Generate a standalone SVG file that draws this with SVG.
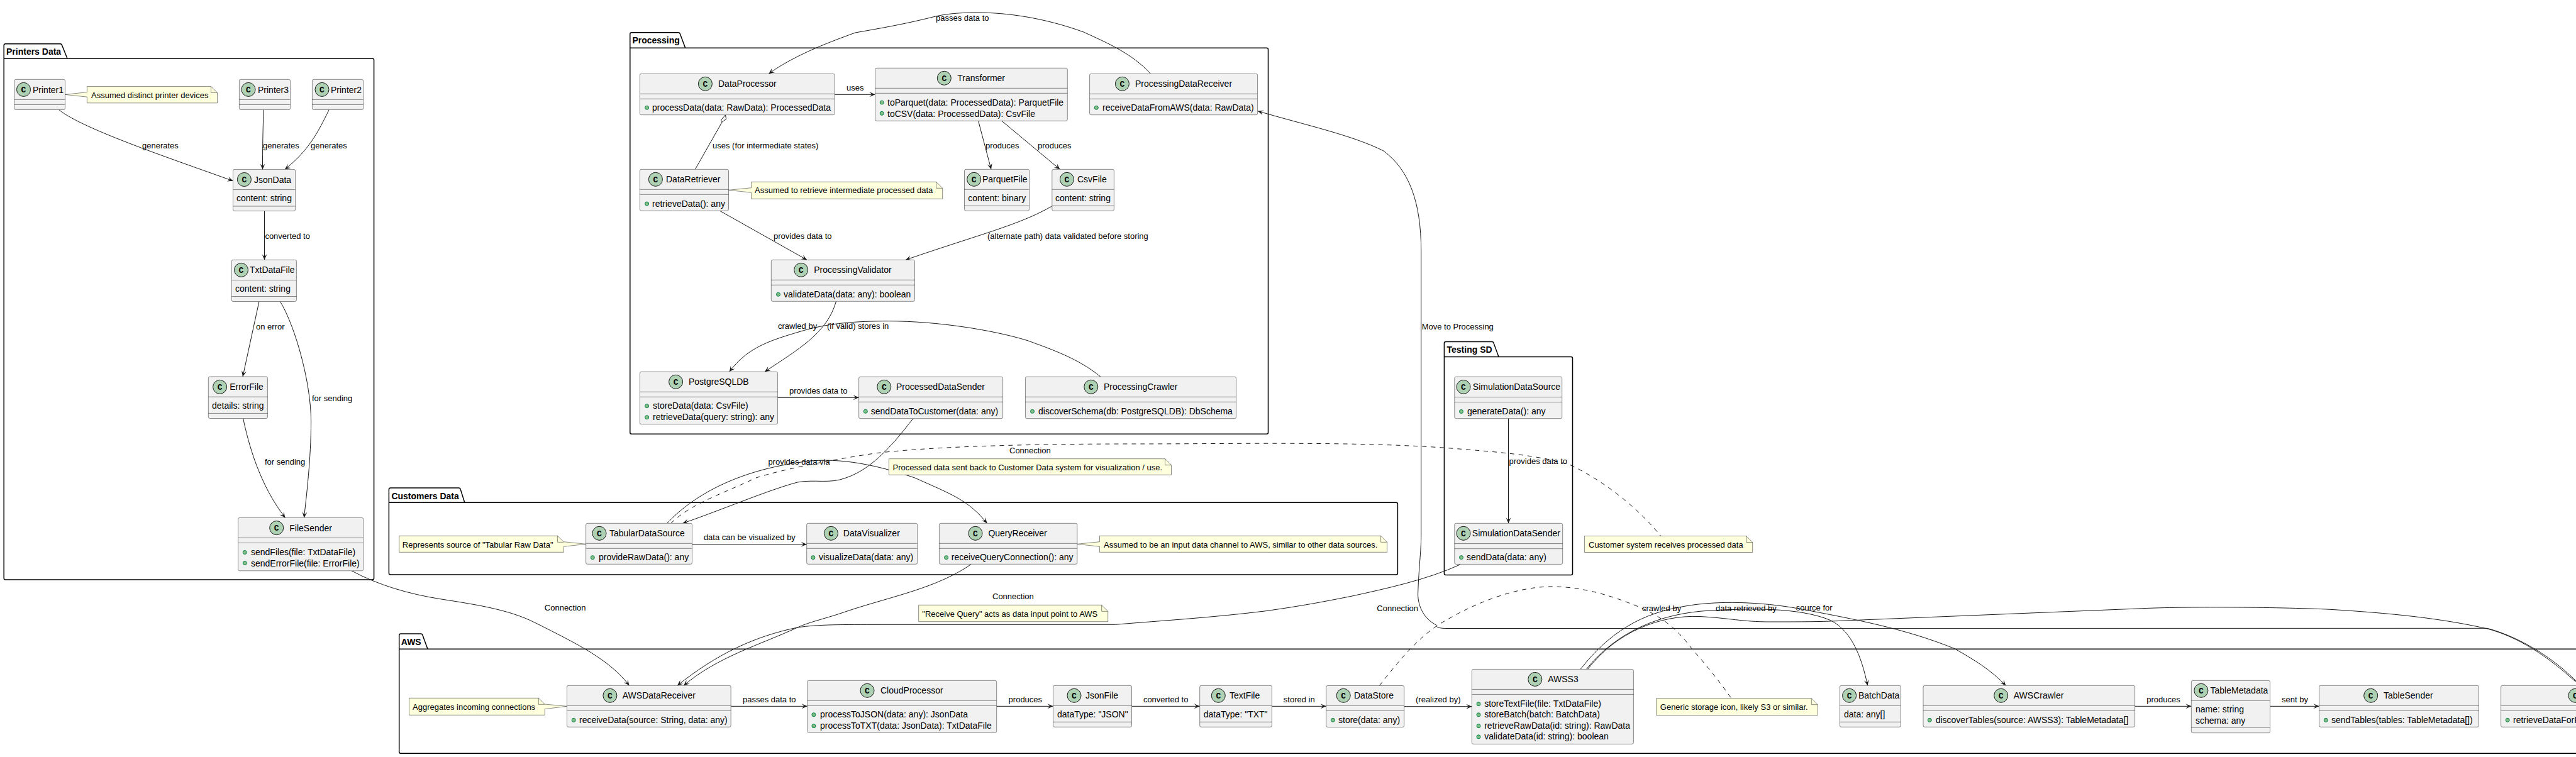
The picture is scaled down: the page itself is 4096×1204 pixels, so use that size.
<svg xmlns="http://www.w3.org/2000/svg" width="4096" height="1204" viewBox="0 0 4096 1204">
<defs>
<marker id="arr" markerUnits="userSpaceOnUse" markerWidth="12" markerHeight="12" refX="10" refY="6" orient="auto"><path d="M10 6 L1 2 L5 6 L1 10 Z" fill="#181818"/></marker>
</defs>
<style>
text{font-family:"Liberation Sans",Arial,sans-serif;fill:#000}
.t{font-size:14px}
.s{font-size:13px}
.b{font-size:14px;font-weight:bold}
.k{font-size:13px;font-weight:bold;text-anchor:middle;font-family:"Liberation Mono","Liberation Sans",monospace}
.box{fill:#F1F1F1;stroke:#181818;stroke-width:.5}
.ln{stroke:#181818;stroke-width:.5;fill:none}
.ci{fill:#ADD1B2;stroke:#181818;stroke-width:1}
.d{fill:#84BE84;stroke:#038048;stroke-width:1}
.nt{fill:#FEFFDD;stroke:#181818;stroke-width:.5}
.pk{fill:none;stroke:#000;stroke-width:1.5}
.c{fill:none;stroke:#181818;stroke-width:1}
.a{marker-end:url(#arr)}
.da{stroke-dasharray:7 7}
</style>
<rect width="4096" height="1204" fill="#fff"/>

<g id="packages">
<g id="pkg-printers"><path class="pk" d="M6.2 93 L6.2 72 Q6.2 69.7 8.7 69.7 L96 69.7 Q98 69.7 98.6 72 L107 93 L592 93 Q594.6 93 594.6 95.5 L594.6 919.5 Q594.6 922 592 922 L8.7 922 Q6.2 922 6.2 919.5 Z M6.2 93 L107 93"/><text class="b" x="10" y="87.3">Printers Data</text></g>
<g id="pkg-processing"><path class="pk" d="M1001.8 76.3 L1001.8 54.2 Q1001.8 51.7 1004.3 51.7 L1078.8 51.7 Q1080.8 51.7 1081.4 54 L1089.7 76.3 L2014 76.3 Q2016.5 76.3 2016.5 78.8 L2016.5 687.8 Q2016.5 690.3 2014 690.3 L1004.3 690.3 Q1001.8 690.3 1001.8 687.8 Z M1001.8 76.3 L1089.7 76.3"/><text class="b" x="1005.4" y="69.3">Processing</text></g>
<g id="pkg-customers"><path class="pk" d="M618.4 799.3 L618.4 778.5 Q618.4 776 620.9 776 L729.6 776 Q731.6 776 732.2 778.3 L738.8 799.3 L2219.9 799.3 Q2222.4 799.3 2222.4 801.8 L2222.4 911.5 Q2222.4 914 2219.9 914 L620.9 914 Q618.4 914 618.4 911.5 Z M618.4 799.3 L738.8 799.3"/><text class="b" x="622.4" y="793.6">Customers Data</text></g>
<g id="pkg-testing"><path class="pk" d="M2296.4 567.4 L2296.4 546.1 Q2296.4 543.6 2298.9 543.6 L2372.5 543.6 Q2374.5 543.6 2375.1 545.9 L2383 567.4 L2498 567.4 Q2500.5 567.4 2500.5 569.9 L2500.5 912 Q2500.5 914.5 2498 914.5 L2298.9 914.5 Q2296.4 914.5 2296.4 912 Z M2296.4 567.4 L2383 567.4"/><text class="b" x="2300.5" y="561">Testing SD</text></g>
<g id="pkg-aws"><path class="pk" d="M4110 1032.3 L680 1032.3 L672 1010.3 Q671.4 1008 669.4 1008 L637.2 1008 Q634.7 1008 634.7 1010.5 L634.7 1195.8 Q634.7 1198.3 637.2 1198.3 L4110 1198.3 M634.7 1032.3 L680 1032.3"/><text class="b" x="637.8" y="1025.6">AWS</text></g>
</g>

<g id="connectors">
<path class="c a" d="M93.7 174.5 C130 205 280 255 370.5 287.8"/><text class="s" x="226" y="235.7">generates</text>
<path class="c a" d="M419.2 174.5 C418 200 417.5 240 417.5 269.4"/><text class="s" x="418" y="235.7">generates</text>
<path class="c a" d="M523.2 174.5 C505 212 490 240 453 269.4"/><text class="s" x="494" y="235.7">generates</text>
<path class="c a" d="M420.5 335.6 L420.5 413.3"/><text class="s" x="421.4" y="379.6">converted to</text>
<path class="c a" d="M412 479.5 L386 599"/><text class="s" x="407" y="524">on error</text>
<path class="c a" d="M445.5 479.5 C470 520 494.6 610 494.6 670 C494.6 730 487 790 483.5 823.4"/><text class="s" x="496" y="637.8">for sending</text>
<path class="c a" d="M386.6 665.5 C395 705 412 770 453.5 823.4"/><text class="s" x="421" y="738.7">for sending</text>
<path class="c a" d="M559 907.8 C600 930 650 945 702 953 C760 962 810 970 850 990 C920 1025 970 1050 1000.5 1090.3"/><text class="s" x="865.8" y="970.7">Connection</text>

<path class="c a" d="M1829.5 117.3 C1800 85 1760 68 1723 51 C1660 28 1600 20 1553.6 20 C1520 20 1500 23 1484.8 26.7 C1440 38 1400 45 1360 52 C1310 70 1260 90 1222.3 117.3"/><text class="s" x="1488" y="33.3">passes data to</text>
<path class="c a" d="M1327.2 150.3 L1391.5 150.3"/><text class="s" x="1346" y="144">uses</text>
<path class="c" d="M1105.4 269.3 L1148.2 194"/><path d="M1153.3 183 L1146.4 191 L1148.2 194 L1154.8 189.3 Z" fill="#fff" stroke="#181818" stroke-width="1"/><text class="s" x="1133" y="235.7">uses (for intermediate states)</text>
<path class="c a" d="M1555.6 192.3 L1576 269.3"/><text class="s" x="1567" y="235.7">produces</text>
<path class="c a" d="M1592.9 192.3 L1685.3 269.3"/><text class="s" x="1650" y="235.7">produces</text>
<path class="c a" d="M1144.6 335.3 L1283 413.3"/><text class="s" x="1230" y="380">provides data to</text>
<path class="c a" d="M1671.9 328.3 C1620 358 1560 372 1440 413.3"/><text class="s" x="1570" y="380">(alternate path) data validated before storing</text>
<path class="c a" d="M1329.5 479.3 C1315 530 1270 555 1216 591.3"/><text class="s" x="1315" y="523.3">(if valid) stores in</text>
<path class="c a" d="M1750 599.3 C1715 570 1670 555 1634 541.7 C1580 525 1490 510.7 1413.4 510.7 C1360 510.7 1320 514 1280 525 C1230 540 1190 550 1159.8 591.3"/><text class="s" x="1237" y="523.3">crawled by</text>
<path class="c a" d="M1236.6 632.3 L1365.6 632.3"/><text class="s" x="1255" y="625.7">provides data to</text>

<path class="c a" d="M1060.7 832.3 C1105 785 1180 745 1290 733 C1350 728 1410 745 1454.6 760 C1510 785 1540 795 1569.4 832.3"/><text class="s" x="1221.4" y="738.7">provides data via</text>
<path class="c da" d="M1066.8 832.3 C1100 800 1150 785 1202 760 C1250 745 1330 730 1391 721 C1500 708 1680 706 1812.5 706 C1960 706 2150 702 2294 712 C2400 720 2450 725 2498 740 C2560 770 2610 815 2640.8 852.5"/><text class="s" x="1605" y="720.7">Connection</text>
<path class="c a" d="M1451.8 665.7 C1425 700 1390 745 1345 760 C1320 770 1295 762 1268 767 C1220 780 1150 810 1085.7 832.3"/>
<path class="c a" d="M1100.5 865.7 L1282.7 865.7"/><text class="s" x="1118.9" y="859">data can be visualized by</text>
<path class="c a" d="M1544.4 897.3 C1490 935 1420 948 1350 971 C1310 985 1290 988 1268 998 C1210 1025 1140 1045 1087.2 1090.3"/><text class="s" x="1578" y="952.7">Connection</text>
<path class="c a" d="M2322 897.8 C2270 922 2200 937 2150 948 C2090 960 2060 965 2013 971.7 C1930 982 1850 987 1773.5 993.3 L1400 993.3 C1340 993.5 1300 993 1268 998 C1200 1012 1140 1040 1077 1090.3"/><text class="s" x="2189.3" y="971.5">Connection</text>

<path class="c a" d="M2398.5 665.7 L2398.5 832.3"/><text class="s" x="2399.5" y="738.4">provides data to</text>
<path class="c a" d="M4110 1098 C4070 1052 4010 1014 3955 999.3 L2300 999.5 C2285 999.5 2283 996 2283.7 994 C2265 985 2254.6 965 2254.6 945 C2256 900 2259.7 880 2259.7 850 L2259.7 400 C2259.7 320 2240 270 2200 240 C2150 215 2080 200 2000 176.7"/><text class="s" x="2260.7" y="523.8">Move to Processing</text>

<path class="c a" d="M1162.2 1123.3 L1283.7 1123.3"/><text class="s" x="1181" y="1116.7">passes data to</text>
<path class="c a" d="M1584.7 1123.3 L1674.5 1123.3"/><text class="s" x="1603.6" y="1116.7">produces</text>
<path class="c a" d="M1799.5 1123.3 L1907.7 1123.3"/><text class="s" x="1817.9" y="1116.7">converted to</text>
<path class="c a" d="M2022.4 1123.3 L2108.7 1123.3"/><text class="s" x="2040.8" y="1116.7">stored in</text>
<path class="c a" d="M2232.7 1123.7 L2340.3 1123.7"/><text class="s" x="2251" y="1117">(realized by)</text>
<path class="c da" d="M2193.4 1090.5 C2225 1050 2250 1020 2283.7 996 C2340 960 2410 933 2467 933 C2520 933 2570 950 2610 967 C2650 985 2670 1005 2692 1034 C2715 1060 2735 1085 2753 1110.7"/>
<path class="c a" d="M2513 1064.4 C2560 1005 2610 975 2680 964 C2730 955 2800 957 2860 968 C2950 985 3030 1000 3108 1031.7 C3140 1050 3165 1065 3189.3 1090.3"/><text class="s" x="2855.8" y="970.7">source for</text>
<path class="c a" d="M2522.4 1064.4 C2570 1005 2640 975 2720 971 C2780 968 2860 965 2911.6 987 C2945 1005 2960 1045 2969.6 1090.3"/><text class="s" x="2728" y="971.5">data retrieved by</text>
<path class="c" d="M2524.5 1064.4 C2570 1005 2640 978 2702 980.5 C2750 983 2770 989 2814 989 C2850 989 2880 989 2911.6 988 L3400 968 C3460 965 3600 965 3700 969 C3800 975 3880 983 3955 1000 C4000 1012 4050 1040 4110 1098"/><text class="s" x="2611" y="971.5">crawled by</text>
<path class="c a" d="M3394.6 1123.3 L3484.3 1123.3"/><text class="s" x="3413.3" y="1116.7">produces</text>
<path class="c a" d="M3609.5 1123.3 L3687.6 1123.3"/><text class="s" x="3628" y="1116.7">sent by</text>
</g>

<g id="Printer1"><rect class="box" x="22.8" y="126.3" width="80.8" height="48.2" rx="2.5"/><path class="ln" d="M22.8 158.4H103.6M22.8 166.5H103.6"/><circle class="ci" cx="37.5" cy="142.4" r="11"/><text class="k" x="37.5" y="147">C</text><text class="t" x="52" y="147.5">Printer1</text></g>
<g id="note-printer"><path class="nt" d="M138.4 137.4 L138.4 146.6 L103.6 150.4 L138.4 154.2 L138.4 163.8 L345.5 163.8 L345.5 147.4 L335.5 137.4 Z"/><path class="ln" d="M335.5 137.4 L335.5 147.4 L345.5 147.4"/><text class="s" x="145" y="156">Assumed distinct printer devices</text></g>
<g id="Printer3"><rect class="box" x="380.4" y="126.3" width="81.2" height="48.2" rx="2.5"/><path class="ln" d="M380.4 158.4H461.6M380.4 166.5H461.6"/><circle class="ci" cx="395" cy="142.4" r="11"/><text class="k" x="395" y="147">C</text><text class="t" x="410" y="147.5">Printer3</text></g>
<g id="Printer2"><rect class="box" x="496.4" y="126.3" width="81.3" height="48.2" rx="2.5"/><path class="ln" d="M496.4 158.4H577.7M496.4 166.5H577.7"/><circle class="ci" cx="512" cy="142.4" r="11"/><text class="k" x="512" y="147">C</text><text class="t" x="526" y="147.5">Printer2</text></g>
<g id="JsonData"><rect class="box" x="370.5" y="269.4" width="99.1" height="66.2" rx="2.5"/><path class="ln" d="M370.5 301.6H469.6M370.5 328H469.6"/><circle class="ci" cx="388.4" cy="285.5" r="11"/><text class="k" x="388.4" y="290">C</text><text class="t" x="404" y="290.5">JsonData</text><text class="t" x="376" y="319.6">content: string</text></g>
<g id="TxtDataFile"><rect class="box" x="368.3" y="413.3" width="103.1" height="66.2" rx="2.5"/><path class="ln" d="M368.3 445.5H471.4M368.3 471.5H471.4"/><circle class="ci" cx="383.5" cy="429.4" r="11"/><text class="k" x="383.5" y="434">C</text><text class="t" x="397" y="434.4">TxtDataFile</text><text class="t" x="374" y="463.7">content: string</text></g>
<g id="ErrorFile"><rect class="box" x="331.3" y="599" width="94.1" height="66.5" rx="2.5"/><path class="ln" d="M331.3 631.2H425.4M331.3 657.4H425.4"/><circle class="ci" cx="349.6" cy="615.4" r="11"/><text class="k" x="349.6" y="620">C</text><text class="t" x="365.2" y="620.4">ErrorFile</text><text class="t" x="337" y="649.5">details: string</text></g>
<g id="FileSender"><rect class="box" x="378.6" y="823.4" width="199.1" height="84.4" rx="2.5"/><path class="ln" d="M378.6 855.4H577.7M378.6 863.5H577.7"/><circle class="ci" cx="439.7" cy="839.6" r="11"/><text class="k" x="439.7" y="844.2">C</text><text class="t" x="460.3" y="844.6">FileSender</text><circle class="d" cx="389.3" cy="878.5" r="3"/><text class="t" x="399" y="883">sendFiles(file: TxtDataFile)</text><circle class="d" cx="389.3" cy="895.5" r="3"/><text class="t" x="399" y="900.5">sendErrorFile(file: ErrorFile)</text></g>

<g id="DataProcessor"><rect class="box" x="1017.4" y="117.3" width="309.8" height="65.4" rx="2.5"/><path class="ln" d="M1017.4 149.3H1327.2M1017.4 157.3H1327.2"/><circle class="ci" cx="1121.4" cy="133.3" r="11"/><text class="k" x="1121.4" y="138">C</text><text class="t" x="1142" y="138.3">DataProcessor</text><circle class="d" cx="1028.6" cy="171.3" r="3"/><text class="t" x="1037" y="176">processData(data: RawData): ProcessedData</text></g>
<g id="Transformer"><rect class="box" x="1391.5" y="108.3" width="305.8" height="84" rx="2.5"/><path class="ln" d="M1391.5 140.3H1697.3M1391.5 148.3H1697.3"/><circle class="ci" cx="1501.3" cy="124.3" r="11"/><text class="k" x="1501.3" y="129">C</text><text class="t" x="1522.3" y="129.3">Transformer</text><circle class="d" cx="1402.2" cy="163" r="3"/><text class="t" x="1411" y="168">toParquet(data: ProcessedData): ParquetFile</text><circle class="d" cx="1402.2" cy="180.3" r="3"/><text class="t" x="1411" y="185.7">toCSV(data: ProcessedData): CsvFile</text></g>
<g id="ProcessingDataReceiver"><rect class="box" x="1732.6" y="117.3" width="267" height="65.4" rx="2.5"/><path class="ln" d="M1732.6 149.3H1999.6M1732.6 157.3H1999.6"/><circle class="ci" cx="1784.4" cy="133.3" r="11"/><text class="k" x="1784.4" y="138">C</text><text class="t" x="1805" y="138.3">ProcessingDataReceiver</text><circle class="d" cx="1743.3" cy="171.3" r="3"/><text class="t" x="1753" y="176">receiveDataFromAWS(data: RawData)</text></g>
<g id="DataRetriever"><rect class="box" x="1017.4" y="269.3" width="141.1" height="66" rx="2.5"/><path class="ln" d="M1017.4 301.3H1158.5M1017.4 309.3H1158.5"/><circle class="ci" cx="1042.4" cy="285.3" r="11"/><text class="k" x="1042.4" y="290">C</text><text class="t" x="1059" y="290.3">DataRetriever</text><circle class="d" cx="1028.6" cy="324" r="3"/><text class="t" x="1037" y="328.5">retrieveData(): any</text></g>
<g id="note-retriever"><path class="nt" d="M1194.6 289.3 L1194.6 298.7 L1158.5 302.3 L1194.6 306.3 L1194.6 316.3 L1498.7 316.3 L1498.7 299.3 L1488.7 289.3 Z"/><path class="ln" d="M1488.7 289.3 L1488.7 299.3 L1498.7 299.3"/><text class="s" x="1200" y="307.3">Assumed to retrieve intermediate processed data</text></g>
<g id="ParquetFile"><rect class="box" x="1533.5" y="269.3" width="103.1" height="66" rx="2.5"/><path class="ln" d="M1533.5 301.3H1636.6M1533.5 327.3H1636.6"/><circle class="ci" cx="1548.7" cy="285.3" r="11"/><text class="k" x="1548.7" y="290">C</text><text class="t" x="1562" y="290.3">ParquetFile</text><text class="t" x="1539.3" y="320">content: binary</text></g>
<g id="CsvFile"><rect class="box" x="1672.8" y="269.3" width="98.6" height="66" rx="2.5"/><path class="ln" d="M1672.8 301.3H1771.4M1672.8 327.3H1771.4"/><circle class="ci" cx="1696.4" cy="285.3" r="11"/><text class="k" x="1696.4" y="290">C</text><text class="t" x="1713" y="290.3">CsvFile</text><text class="t" x="1678" y="320">content: string</text></g>
<g id="ProcessingValidator"><rect class="box" x="1226.3" y="413.3" width="228.2" height="66" rx="2.5"/><path class="ln" d="M1226.3 445.3H1454.5M1226.3 453.3H1454.5"/><circle class="ci" cx="1273.7" cy="429.3" r="11"/><text class="k" x="1273.7" y="434">C</text><text class="t" x="1294.2" y="434.3">ProcessingValidator</text><circle class="d" cx="1237.5" cy="468.3" r="3"/><text class="t" x="1246" y="472.7">validateData(data: any): boolean</text></g>
<g id="PostgreSQLDB"><rect class="box" x="1017.4" y="591.3" width="219.2" height="83.4" rx="2.5"/><path class="ln" d="M1017.4 623.3H1236.6M1017.4 631.3H1236.6"/><circle class="ci" cx="1074.6" cy="607.3" r="11"/><text class="k" x="1074.6" y="612">C</text><text class="t" x="1095" y="612.3">PostgreSQLDB</text><circle class="d" cx="1028.6" cy="645.7" r="3"/><text class="t" x="1038" y="650.3">storeData(data: CsvFile)</text><circle class="d" cx="1028.6" cy="663.7" r="3"/><text class="t" x="1038" y="668">retrieveData(query: string): any</text></g>
<g id="ProcessedDataSender"><rect class="box" x="1365.6" y="599.3" width="229" height="66.4" rx="2.5"/><path class="ln" d="M1365.6 631.3H1594.6M1365.6 639.3H1594.6"/><circle class="ci" cx="1405.8" cy="615.3" r="11"/><text class="k" x="1405.8" y="620">C</text><text class="t" x="1425" y="620.3">ProcessedDataSender</text><circle class="d" cx="1376.3" cy="654.3" r="3"/><text class="t" x="1384.8" y="658.7">sendDataToCustomer(data: any)</text></g>
<g id="ProcessingCrawler"><rect class="box" x="1630.4" y="599.3" width="335.2" height="66.4" rx="2.5"/><path class="ln" d="M1630.4 631.3H1965.6M1630.4 639.3H1965.6"/><circle class="ci" cx="1734.8" cy="615.3" r="11"/><text class="k" x="1734.8" y="620">C</text><text class="t" x="1755" y="620.3">ProcessingCrawler</text><circle class="d" cx="1641.5" cy="654.3" r="3"/><text class="t" x="1651" y="658.7">discoverSchema(db: PostgreSQLDB): DbSchema</text></g>
<g id="note-processed"><path class="nt" d="M1413.4 729.7 L1413.4 755.3 L1862.5 755.3 L1862.5 739.7 L1852.5 729.7 Z"/><path class="ln" d="M1852.5 729.7 L1852.5 739.7 L1862.5 739.7"/><text class="s" x="1419.6" y="747.7">Processed data sent back to Customer Data system for visualization / use.</text></g>

<g id="TabularDataSource"><rect class="box" x="931.6" y="832.3" width="168.9" height="65" rx="2.5"/><path class="ln" d="M931.6 864.3H1100.5M931.6 872.3H1100.5"/><circle class="ci" cx="953" cy="848.3" r="11"/><text class="k" x="953" y="853">C</text><text class="t" x="968.9" y="853.3">TabularDataSource</text><circle class="d" cx="942.3" cy="886.7" r="3"/><text class="t" x="952" y="891">provideRawData(): any</text></g>
<g id="note-tabular"><path class="nt" d="M634.7 852.3 L634.7 878.3 L896.4 878.3 L896.4 869.3 L931.6 865.3 L896.4 861.7 L886.4 852.3 Z"/><path class="ln" d="M886.4 852.3 L886.4 862.3 L896.4 862.3"/><text class="s" x="639.8" y="870.7">Represents source of "Tabular Raw Data"</text></g>
<g id="DataVisualizer"><rect class="box" x="1282.7" y="832.3" width="176" height="65" rx="2.5"/><path class="ln" d="M1282.7 864.3H1458.7M1282.7 872.3H1458.7"/><circle class="ci" cx="1321.4" cy="848.3" r="11"/><text class="k" x="1321.4" y="853">C</text><text class="t" x="1340.8" y="853.3">DataVisualizer</text><circle class="d" cx="1292.9" cy="886.7" r="3"/><text class="t" x="1302" y="891">visualizeData(data: any)</text></g>
<g id="QueryReceiver"><rect class="box" x="1493.4" y="832.3" width="219.4" height="65" rx="2.5"/><path class="ln" d="M1493.4 864.3H1712.8M1493.4 872.3H1712.8"/><circle class="ci" cx="1551" cy="848.3" r="11"/><text class="k" x="1551" y="853">C</text><text class="t" x="1571.4" y="853.3">QueryReceiver</text><circle class="d" cx="1504.6" cy="886.7" r="3"/><text class="t" x="1512.8" y="891">receiveQueryConnection(): any</text></g>
<g id="note-query"><path class="nt" d="M1748.5 852.3 L1748.5 861.7 L1712.8 865.3 L1748.5 869.3 L1748.5 878.3 L2205.6 878.3 L2205.6 862.3 L2195.6 852.3 Z"/><path class="ln" d="M2195.6 852.3 L2195.6 862.3 L2205.6 862.3"/><text class="s" x="1755" y="870.7">Assumed to be an input data channel to AWS, similar to other data sources.</text></g>
<g id="note-customer"><path class="nt" d="M2519.4 852.5 L2519.4 878.5 L2786.7 878.5 L2786.7 862.5 L2776.7 852.5 Z"/><path class="ln" d="M2776.7 852.5 L2776.7 862.5 L2786.7 862.5"/><text class="s" x="2526" y="871">Customer system receives processed data</text></g>
<g id="note-receive-query"><path class="nt" d="M1460.7 962.3 L1460.7 988.7 L1761.7 988.7 L1761.7 972.3 L1751.7 962.3 Z"/><path class="ln" d="M1751.7 962.3 L1751.7 972.3 L1761.7 972.3"/><text class="s" x="1466.3" y="981">"Receive Query" acts as data input point to AWS</text></g>

<g id="SimulationDataSource"><rect class="box" x="2312.8" y="599.2" width="170.9" height="66.5" rx="2.5"/><path class="ln" d="M2312.8 631.6H2483.7M2312.8 639.6H2483.7"/><circle class="ci" cx="2327" cy="615.4" r="11"/><text class="k" x="2327" y="620">C</text><text class="t" x="2341.8" y="620.4">SimulationDataSource</text><circle class="d" cx="2323.5" cy="654.5" r="3"/><text class="t" x="2333" y="658.9">generateData(): any</text></g>
<g id="SimulationDataSender"><rect class="box" x="2312.8" y="832.3" width="171.9" height="65.1" rx="2.5"/><path class="ln" d="M2312.8 864.6H2484.7M2312.8 872.7H2484.7"/><circle class="ci" cx="2327" cy="848.3" r="11"/><text class="k" x="2327" y="853">C</text><text class="t" x="2340.8" y="853.3">SimulationDataSender</text><circle class="d" cx="2323.5" cy="886.6" r="3"/><text class="t" x="2332" y="891">sendData(data: any)</text></g>

<g id="AWSDataReceiver"><rect class="box" x="901.5" y="1090.3" width="260.7" height="66" rx="2.5"/><path class="ln" d="M901.5 1122.3H1162.2M901.5 1130.3H1162.2"/><circle class="ci" cx="969.9" cy="1106.3" r="11"/><text class="k" x="969.9" y="1111">C</text><text class="t" x="989.8" y="1111.3">AWSDataReceiver</text><circle class="d" cx="912.2" cy="1145.3" r="3"/><text class="t" x="921" y="1149.7">receiveData(source: String, data: any)</text></g>
<g id="note-aggregates"><path class="nt" d="M650.5 1110.3 L650.5 1137.3 L866.3 1137.3 L866.3 1127.7 L901.5 1123.3 L866.3 1120 L856.3 1110.3 Z"/><path class="ln" d="M856.3 1110.3 L856.3 1120.3 L866.3 1120.3"/><text class="s" x="656" y="1129">Aggregates incoming connections</text></g>
<g id="CloudProcessor"><rect class="box" x="1283.7" y="1082.3" width="301" height="83" rx="2.5"/><path class="ln" d="M1283.7 1114.3H1584.7M1283.7 1122.3H1584.7"/><circle class="ci" cx="1379" cy="1098.3" r="11"/><text class="k" x="1379" y="1103">C</text><text class="t" x="1400" y="1103.3">CloudProcessor</text><circle class="d" cx="1293.9" cy="1136.7" r="3"/><text class="t" x="1304" y="1141.3">processToJSON(data: any): JsonData</text><circle class="d" cx="1293.9" cy="1154.7" r="3"/><text class="t" x="1304" y="1159">processToTXT(data: JsonData): TxtDataFile</text></g>
<g id="JsonFile"><rect class="box" x="1674.5" y="1090.3" width="125" height="66" rx="2.5"/><path class="ln" d="M1674.5 1122.3H1799.5M1674.5 1148.3H1799.5"/><circle class="ci" cx="1708" cy="1106.3" r="11"/><text class="k" x="1708" y="1111">C</text><text class="t" x="1726" y="1111.3">JsonFile</text><text class="t" x="1681" y="1141">dataType: "JSON"</text></g>
<g id="TextFile"><rect class="box" x="1907.7" y="1090.3" width="114.7" height="66" rx="2.5"/><path class="ln" d="M1907.7 1122.3H2022.4M1907.7 1148.3H2022.4"/><circle class="ci" cx="1937.3" cy="1106.3" r="11"/><text class="k" x="1937.3" y="1111">C</text><text class="t" x="1955" y="1111.3">TextFile</text><text class="t" x="1913.8" y="1141">dataType: "TXT"</text></g>
<g id="DataStore"><rect class="box" x="2108.7" y="1090.5" width="124" height="66" rx="2.5"/><path class="ln" d="M2108.7 1122.3H2232.7M2108.7 1130.3H2232.7"/><circle class="ci" cx="2136.2" cy="1106.3" r="11"/><text class="k" x="2136.2" y="1111">C</text><text class="t" x="2153" y="1111.3">DataStore</text><circle class="d" cx="2119.4" cy="1145.3" r="3"/><text class="t" x="2128" y="1149.7">store(data: any)</text></g>
<g id="AWSS3"><rect class="box" x="2340.3" y="1064.4" width="257.1" height="119" rx="2.5"/><path class="ln" d="M2340.3 1096.4H2597.4M2340.3 1104.4H2597.4"/><circle class="ci" cx="2440.8" cy="1080.4" r="11"/><text class="k" x="2440.8" y="1085">C</text><text class="t" x="2461.2" y="1085.4">AWSS3</text><circle class="d" cx="2351" cy="1119.7" r="3"/><text class="t" x="2360.2" y="1124.2">storeTextFile(file: TxtDataFile)</text><circle class="d" cx="2351" cy="1136.8" r="3"/><text class="t" x="2360.2" y="1141.3">storeBatch(batch: BatchData)</text><circle class="d" cx="2351" cy="1154.7" r="3"/><text class="t" x="2360.2" y="1159.2">retrieveRawData(id: string): RawData</text><circle class="d" cx="2351" cy="1171.8" r="3"/><text class="t" x="2360.2" y="1176.3">validateData(id: string): boolean</text></g>
<g id="note-storage"><path class="nt" d="M2633.7 1110.7 L2633.7 1137.6 L2890.3 1137.6 L2890.3 1120.7 L2880.3 1110.7 Z"/><path class="ln" d="M2880.3 1110.7 L2880.3 1120.7 L2890.3 1120.7"/><text class="s" x="2639.8" y="1128.6">Generic storage icon, likely S3 or similar.</text></g>
<g id="BatchData"><rect class="box" x="2925.4" y="1090.3" width="96.9" height="66" rx="2.5"/><path class="ln" d="M2925.4 1122.3H3022.3M2925.4 1148.3H3022.3"/><circle class="ci" cx="2940.6" cy="1106.3" r="11"/><text class="k" x="2940.6" y="1111">C</text><text class="t" x="2955" y="1111.3">BatchData</text><text class="t" x="2932" y="1141">data: any[]</text></g>
<g id="AWSCrawler"><rect class="box" x="3058" y="1090.3" width="336.6" height="66" rx="2.5"/><path class="ln" d="M3058 1122.3H3394.6M3058 1130.3H3394.6"/><circle class="ci" cx="3181.7" cy="1106.3" r="11"/><text class="k" x="3181.7" y="1111">C</text><text class="t" x="3201.8" y="1111.3">AWSCrawler</text><circle class="d" cx="3068.3" cy="1145.3" r="3"/><text class="t" x="3077.7" y="1149.7">discoverTables(source: AWSS3): TableMetadata[]</text></g>
<g id="TableMetadata"><rect class="box" x="3484.3" y="1082.3" width="125.2" height="83.4" rx="2.5"/><path class="ln" d="M3484.3 1114.3H3609.5M3484.3 1157.3H3609.5"/><circle class="ci" cx="3499.9" cy="1098.3" r="11"/><text class="k" x="3499.9" y="1103">C</text><text class="t" x="3514.5" y="1103.3">TableMetadata</text><text class="t" x="3491" y="1133.3">name: string</text><text class="t" x="3491" y="1151.3">schema: any</text></g>
<g id="TableSender"><rect class="box" x="3687.6" y="1090.3" width="253.9" height="66" rx="2.5"/><path class="ln" d="M3687.6 1122.3H3941.5M3687.6 1130.3H3941.5"/><circle class="ci" cx="3769.7" cy="1106.3" r="11"/><text class="k" x="3769.7" y="1111">C</text><text class="t" x="3790" y="1111.3">TableSender</text><circle class="d" cx="3698.3" cy="1145.3" r="3"/><text class="t" x="3707" y="1149.7">sendTables(tables: TableMetadata[])</text></g>
<g id="LastClass"><rect class="box" x="3976.6" y="1090.3" width="240" height="66" rx="2.5"/><path class="ln" d="M3976.6 1122.3H4216.6M3976.6 1130.3H4216.6"/><circle class="ci" cx="4095" cy="1106.3" r="11"/><text class="k" x="4095" y="1111">C</text><circle class="d" cx="3987.2" cy="1145.3" r="3"/><text class="t" x="3996" y="1149.7">retrieveDataForP</text></g>
</svg>
